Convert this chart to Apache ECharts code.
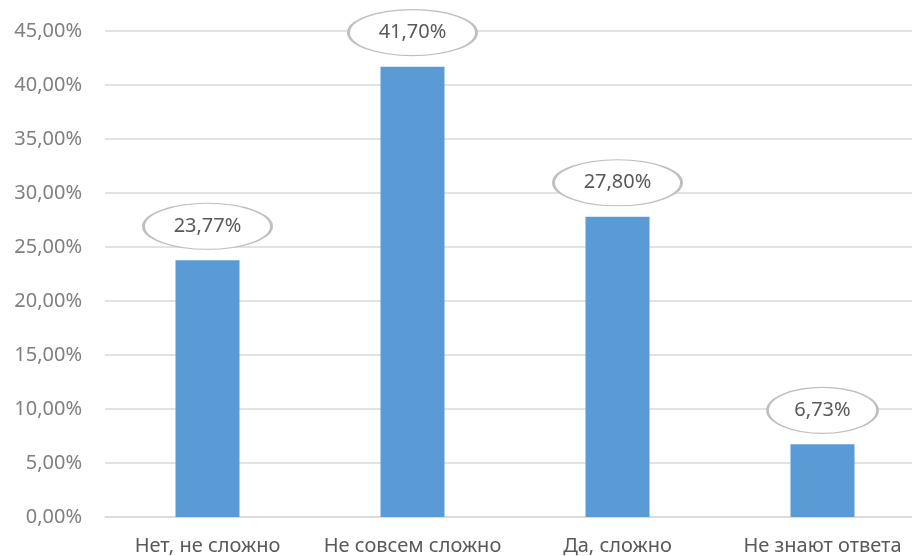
<!DOCTYPE html>
<html>
<head>
<meta charset="utf-8">
<script src="https://cdn.jsdelivr.net/npm/echarts@6/dist/echarts.min.js"></script>
<style>html,body{margin:0;padding:0;background:#fff;overflow:hidden;width:912px;height:556px;}#c{width:925px;height:556px;}</style>
</head>
<body>
<div id="c"></div>
<script>
const categories = ['Нет, не сложно', 'Не совсем сложно', 'Да, сложно', 'Не знают ответа'];
const values = [23.77, 41.70, 27.80, 6.73];
const yTicks = { min: 0, max: 45, interval: 5 };

const fmt = v => v.toFixed(2).replace('.', ',') + '%';
const font = '"Noto Sans", "Open Sans", sans-serif';

const chart = echarts.init(document.getElementById('c'), null, { renderer: 'canvas' });
chart.setOption({
  animation: false,
  backgroundColor: '#ffffff',
  grid: { left: 105, right: 0, top: 31, bottom: 39, containLabel: false },
  xAxis: {
    type: 'category',
    data: categories,
    axisLine: { show: true, lineStyle: { color: '#d9d9d9', width: 1.5 } },
    axisTick: { show: false },
    axisLabel: { color: '#595959', fontSize: 20, fontFamily: font, margin: 19, interval: 0 }
  },
  yAxis: {
    type: 'value',
    min: yTicks.min, max: yTicks.max, interval: yTicks.interval,
    axisLine: { show: false },
    axisTick: { show: false },
    splitLine: { lineStyle: { color: '#d9d9d9', width: 1.5 } },
    axisLabel: { color: '#7f7f7f', fontSize: 20, fontFamily: font, margin: 23,
      formatter: v => fmt(v) }
  },
  series: [
    {
      type: 'bar',
      data: values,
      barWidth: 64,
      itemStyle: { color: '#5b9bd5' },
      z: 2
    },
    {
      type: 'scatter',
      data: values.map((v, i) => ({
        value: v,
        symbolSize: fmt(v).length > 5 ? [128, 46] : [110, 46]
      })),
      symbol: 'circle',
      symbolOffset: [0, -34],
      itemStyle: { color: '#ffffff', borderColor: '#bfbfbf', borderWidth: 1.8, opacity: 1 },
      label: {
        show: true, position: 'inside',
        formatter: p => fmt(p.value),
        color: '#595959', fontSize: 20, fontFamily: font
      },
      emphasis: { disabled: true },
      z: 5
    }
  ]
});
</script>
</body>
</html>
